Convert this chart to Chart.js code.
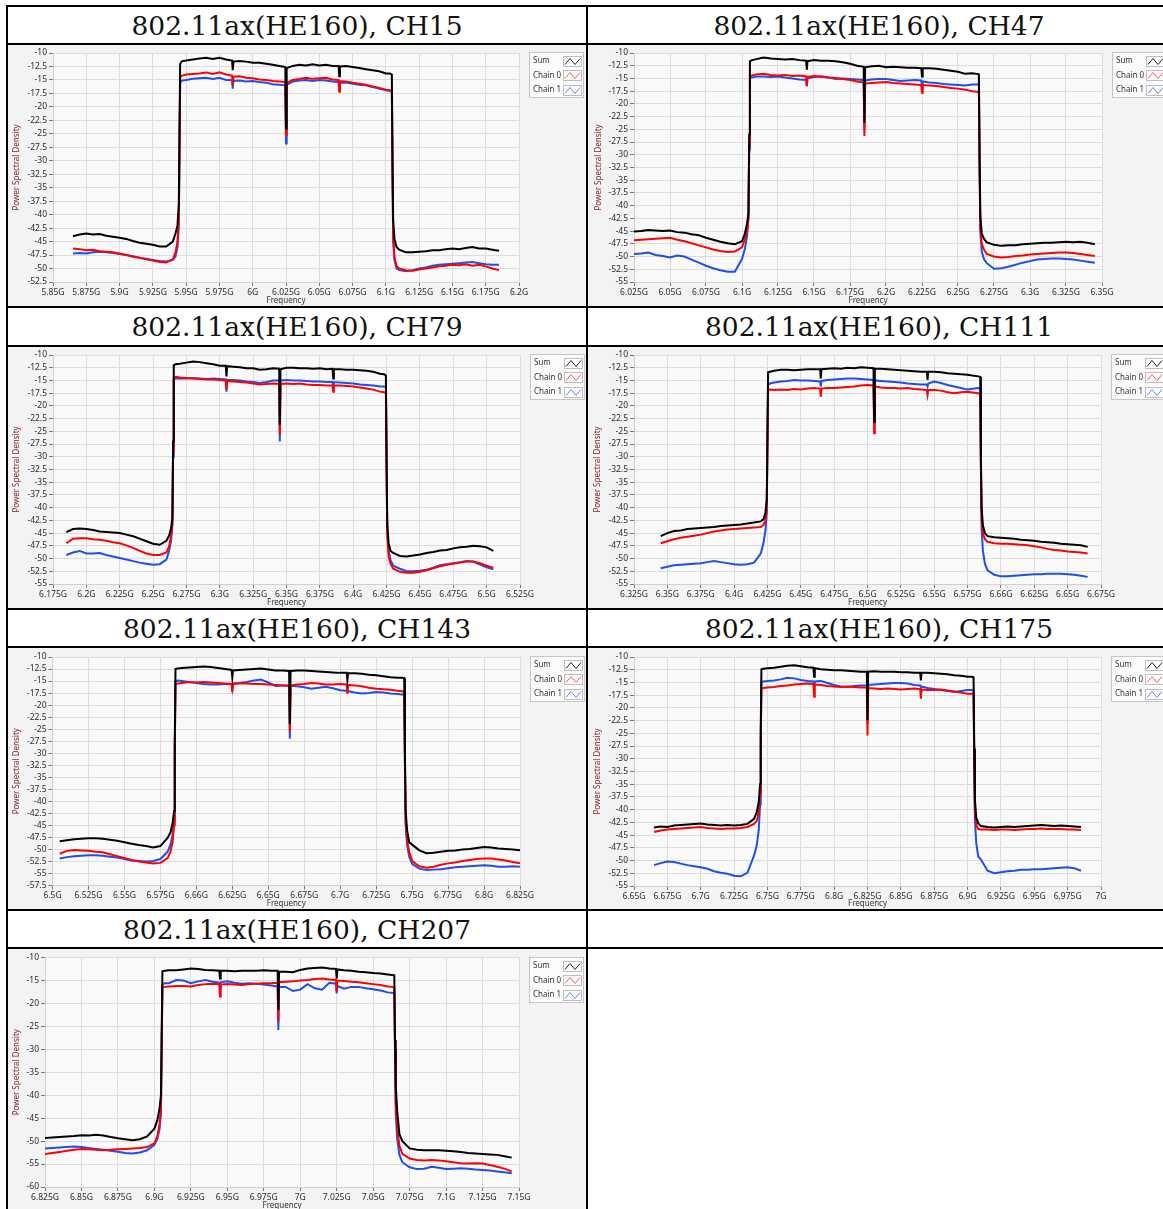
<!DOCTYPE html>
<html>
<head>
<meta charset="utf-8">
<title>802.11ax HE160 power spectral density</title>
<script src="https://cdn.jsdelivr.net/npm/chart.js@4.4.1/dist/chart.umd.min.js"></script>
<style>
  html, body { margin: 0; padding: 0; background: #fff; }
  body { width: 1163px; height: 1209px; position: relative; overflow: hidden; }
  .rule { position: absolute; background: #000; }
  .cap { position: absolute; height: 36px; line-height: 36px; text-align: center; white-space: nowrap;
         font-family: "DejaVu Serif", serif; font-size: 26.5px; color: #111; }
  .panel { position: absolute; background: #f3f3f3; }
</style>
</head>
<body>
<!-- table rules -->
<div class="rule" style="left:6px;top:5px;width:1157px;height:2px"></div>
<div class="rule" style="left:6px;top:43px;width:1157px;height:2px"></div>
<div class="rule" style="left:6px;top:306px;width:1157px;height:2px"></div>
<div class="rule" style="left:6px;top:345px;width:1157px;height:2px"></div>
<div class="rule" style="left:6px;top:608px;width:1157px;height:2px"></div>
<div class="rule" style="left:6px;top:646px;width:1157px;height:2px"></div>
<div class="rule" style="left:6px;top:909px;width:1157px;height:2px"></div>
<div class="rule" style="left:6px;top:947px;width:1157px;height:2px"></div>
<div class="rule" style="left:6px;top:5px;width:2px;height:1204px"></div>
<div class="rule" style="left:586px;top:5px;width:2px;height:1204px"></div>

<div class="cap" id="cap0" style="left:8px;top:8px;width:578px"></div>
<div class="cap" id="cap1" style="left:588px;top:8px;width:582px"></div>
<div class="cap" id="cap2" style="left:8px;top:309px;width:578px"></div>
<div class="cap" id="cap3" style="left:588px;top:309px;width:582px"></div>
<div class="cap" id="cap4" style="left:8px;top:611px;width:578px"></div>
<div class="cap" id="cap5" style="left:588px;top:611px;width:582px"></div>
<div class="cap" id="cap6" style="left:8px;top:912px;width:578px"></div>

<div class="panel" style="left:8px;top:45px;width:578px;height:261px"><canvas id="c0"></canvas></div>
<div class="panel" style="left:588px;top:45px;width:575px;height:261px"><canvas id="c1"></canvas></div>
<div class="panel" style="left:8px;top:347px;width:578px;height:261px"><canvas id="c2"></canvas></div>
<div class="panel" style="left:588px;top:347px;width:575px;height:261px"><canvas id="c3"></canvas></div>
<div class="panel" style="left:8px;top:648px;width:578px;height:261px"><canvas id="c4"></canvas></div>
<div class="panel" style="left:588px;top:648px;width:575px;height:261px"><canvas id="c5"></canvas></div>
<div class="panel" style="left:8px;top:949px;width:578px;height:260px"><canvas id="c6"></canvas></div>

<script>
const channelTitles = ['802.11ax(HE160), CH15', '802.11ax(HE160), CH47', '802.11ax(HE160), CH79',
  '802.11ax(HE160), CH111', '802.11ax(HE160), CH143', '802.11ax(HE160), CH175', '802.11ax(HE160), CH207'];
const seriesNames = ['Sum', 'Chain 0', 'Chain 1'];

// sample positions, MHz from the first point of each trace (edges and pilot dips sampled closer)
const offsetsMHz = [0,5,10,15,20,25,30,35,40,45,50,55,60,65,70,75, 77,78.5,79.5,80,80.5,82,
  85,90,95,100,105,110,115, 119.5,120,120.5, 125,130,135,140,145,150,155, 159.5,160,160.5,
  165,170,175,180,185,190,195, 199.5,200,200.5, 205,210,215,220,225,230,235,
  238,239.5,240,240.5,241.5,243, 245,250,255,260,265,270,275,280,285,290,295,300,305,310,315,320];

const startGHz = [5.865, 6.025, 6.185, 6.345, 6.505, 6.665, 6.825];

const yLabels52 = ['-10','-12.5','-15','-17.5','-20','-22.5','-25','-27.5','-30','-32.5','-35','-37.5','-40','-42.5','-45','-47.5','-50','-52.5'];
const yLabels55 = ['-10','-12.5','-15','-17.5','-20','-22.5','-25','-27.5','-30','-32.5','-35','-37.5','-40','-42.5','-45','-47.5','-50','-52.5','-55'];
const yLabels57 = ['-10','-12.5','-15','-17.5','-20','-22.5','-25','-27.5','-30','-32.5','-35','-37.5','-40','-42.5','-45','-47.5','-50','-52.5','-55','-57.5'];
const yLabels60 = ['-10','-15','-20','-25','-30','-35','-40','-45','-50','-55','-60'];

const xLabelsCh15 = ['5.85G','5.875G','5.9G','5.925G','5.95G','5.975G','6G','6.025G','6.05G','6.075G','6.1G','6.125G','6.15G','6.175G','6.2G'];
const xLabelsCh47 = ['6.025G','6.05G','6.075G','6.1G','6.125G','6.15G','6.175G','6.2G','6.225G','6.25G','6.275G','6.3G','6.325G','6.35G'];
const xLabelsCh79 = ['6.175G','6.2G','6.225G','6.25G','6.275G','6.3G','6.325G','6.35G','6.375G','6.4G','6.425G','6.45G','6.475G','6.5G','6.525G'];
const xLabelsCh111 = ['6.325G','6.35G','6.375G','6.4G','6.425G','6.45G','6.475G','6.5G','6.525G','6.55G','6.575G','6.66G','6.625G','6.65G','6.675G'];
const xLabelsCh143 = ['6.5G','6.525G','6.55G','6.575G','6.66G','6.625G','6.65G','6.675G','6.7G','6.725G','6.75G','6.775G','6.8G','6.825G'];
const xLabelsCh175 = ['6.65G','6.675G','6.7G','6.725G','6.75G','6.775G','6.8G','6.825G','6.85G','6.875G','6.9G','6.925G','6.95G','6.975G','7G'];
const xLabelsCh207 = ['6.825G','6.85G','6.875G','6.9G','6.925G','6.95G','6.975G','7G','7.025G','7.05G','7.075G','7.1G','7.125G','7.15G'];

// CH15
const ch15Sum = [-44.0,-43.7,-43.5,-43.7,-43.6,-43.9,-44.1,-44.3,-44.5,-44.9,-45.2,-45.4,-45.6,-45.9,-45.9,-45.0,
  -43.5,-42.0,-38.0,-25.0,-12.0,-11.5, -11.4,-11.2,-11.0,-10.9,-11.1,-10.9,-11.2, -11.4,-13.2,-11.6,
  -11.5,-11.6,-11.8,-11.8,-12.0,-12.2,-12.4, -12.6,-24.0,-12.8, -12.4,-12.2,-12.3,-12.1,-12.3,-12.2,-12.4,
  -12.4,-14.3,-12.5, -12.4,-12.6,-12.8,-13.0,-13.2,-13.4,-13.8, -13.8,-14.0,-30.0,-41.0,-44.5,-46.0,
  -46.5,-47.0,-47.0,-46.9,-46.8,-46.6,-46.6,-46.4,-46.3,-46.4,-46.2,-46.0,-46.3,-46.3,-46.5,-46.7];
const ch15Chain0 = [-46.3,-46.4,-46.6,-46.5,-46.8,-46.9,-47.0,-47.2,-47.5,-47.8,-48.0,-48.3,-48.5,-48.8,-48.9,-48.3,
  -47.0,-45.0,-41.0,-28.0,-14.5,-14.2, -14.0,-13.9,-13.8,-13.6,-13.9,-13.6,-14.0, -14.2,-16.0,-14.4,
  -14.3,-14.6,-14.7,-14.9,-15.0,-15.2,-15.3, -15.4,-25.2,-15.6, -15.0,-14.8,-14.6,-14.8,-14.7,-14.6,-14.9,
  -15.0,-17.2,-15.2, -15.3,-15.5,-15.7,-15.9,-16.2,-16.5,-16.8, -16.9,-17.3,-32.0,-44.0,-48.0,-49.5,
  -50.0,-50.3,-50.4,-50.2,-50.0,-49.8,-49.6,-49.5,-49.3,-49.4,-49.2,-49.5,-49.3,-49.6,-50.0,-50.3];
const ch15Chain1 = [-47.2,-47.1,-47.2,-47.0,-46.9,-47.0,-47.1,-47.3,-47.5,-47.7,-48.0,-48.2,-48.4,-48.6,-48.7,-48.4,
  -47.8,-46.0,-42.0,-29.0,-15.5,-15.1, -15.0,-14.8,-14.7,-14.6,-14.8,-14.6,-15.0, -15.0,-16.6,-15.2,
  -15.1,-15.3,-15.2,-15.4,-15.5,-15.8,-15.9, -16.0,-26.8,-15.9, -15.3,-15.1,-15.0,-15.2,-15.0,-15.1,-15.3,
  -15.4,-16.8,-15.5, -15.5,-15.7,-15.9,-16.0,-16.3,-16.6,-16.9, -17.0,-17.2,-33.0,-45.0,-48.5,-50.0,
  -50.3,-50.5,-50.3,-50.0,-49.8,-49.5,-49.3,-49.2,-49.1,-49.0,-48.9,-48.8,-49.0,-49.2,-49.3,-49.3];

// CH47
const ch47Sum = [-45.1,-45.0,-44.8,-44.9,-45.0,-44.9,-45.2,-45.3,-45.6,-45.8,-46.3,-46.7,-47.1,-47.4,-47.6,-47.0,
  -45.5,-43.5,-41.5,-26.0,-11.6,-11.4, -11.2,-10.9,-11.1,-11.2,-11.3,-11.2,-11.4, -11.5,-13.3,-11.6,
  -11.4,-11.5,-11.5,-11.6,-11.8,-12.1,-12.5, -12.7,-23.7,-12.8, -12.6,-12.5,-12.8,-12.7,-12.8,-12.9,-12.9,
  -13.0,-14.6,-13.0, -13.0,-13.1,-13.3,-13.5,-13.7,-14.1,-14.0, -14.1,-14.2,-30.0,-42.0,-45.5,-46.5,
  -47.2,-47.7,-47.9,-47.8,-47.8,-47.6,-47.5,-47.4,-47.3,-47.3,-47.2,-47.1,-47.2,-47.1,-47.3,-47.6];
const ch47Chain0 = [-46.8,-46.7,-46.6,-46.5,-46.4,-46.3,-46.7,-47.0,-47.4,-47.8,-48.2,-48.6,-48.9,-49.1,-49.0,-48.2,
  -46.6,-45.0,-42.5,-28.0,-14.6,-14.4, -14.2,-14.1,-14.3,-14.4,-14.3,-14.5,-14.4, -14.6,-16.5,-14.7,
  -14.5,-14.6,-14.8,-14.9,-15.1,-15.3,-15.6, -15.8,-26.3,-16.0, -15.9,-15.8,-15.7,-15.9,-16.0,-16.1,-16.2,
  -16.3,-17.8,-16.3, -16.4,-16.5,-16.7,-16.9,-17.0,-17.2,-17.5, -17.6,-17.8,-33.0,-44.0,-47.5,-48.6,
  -49.5,-50.0,-50.2,-50.1,-49.9,-49.8,-49.6,-49.5,-49.4,-49.3,-49.2,-49.2,-49.3,-49.5,-49.7,-49.9];
const ch47Chain1 = [-49.5,-49.4,-49.2,-49.7,-49.9,-50.2,-49.8,-50.0,-50.6,-51.2,-51.8,-52.3,-52.7,-53.0,-53.0,-50.5,
  -48.5,-46.0,-42.0,-29.0,-15.0,-14.8, -14.6,-14.6,-14.7,-14.6,-14.8,-15.0,-15.2, -15.3,-16.5,-15.0,
  -14.7,-14.6,-14.8,-15.1,-15.0,-15.1,-15.2, -15.3,-25.0,-15.4, -15.2,-15.1,-15.1,-15.3,-15.5,-15.4,-15.3,
  -15.4,-16.8,-15.6, -15.8,-15.9,-16.1,-16.2,-16.3,-16.4,-16.2, -16.2,-16.1,-33.0,-45.0,-49.0,-50.5,
  -51.3,-52.4,-52.3,-52.0,-51.6,-51.2,-50.9,-50.6,-50.5,-50.4,-50.4,-50.5,-50.6,-50.8,-51.0,-51.2];

// CH79
const ch79Sum = [-44.8,-44.2,-44.1,-44.2,-44.4,-44.7,-44.8,-44.9,-45.0,-45.3,-45.6,-46.1,-46.6,-47.1,-47.3,-46.5,
  -45.5,-44.0,-42.0,-27.0,-12.0,-11.8, -11.7,-11.5,-11.3,-11.4,-11.6,-11.8,-12.1, -12.1,-14.2,-12.2,
  -12.3,-12.4,-12.6,-12.6,-12.9,-12.8,-12.6, -12.7,-23.7,-12.8, -12.5,-12.5,-12.6,-12.6,-12.7,-12.6,-12.8,
  -12.7,-14.6,-12.8, -12.8,-12.9,-12.9,-13.0,-13.1,-13.3,-13.7, -13.8,-14.0,-30.0,-43.0,-47.0,-48.5,
  -48.9,-49.5,-49.6,-49.4,-49.2,-48.9,-48.7,-48.4,-48.3,-48.0,-47.8,-47.7,-47.5,-47.6,-47.8,-48.5];
const ch79Chain0 = [-47.0,-46.1,-46.0,-46.0,-46.2,-46.3,-46.5,-46.8,-47.0,-47.4,-47.9,-48.5,-49.0,-49.3,-49.3,-48.8,
  -47.6,-45.5,-43.0,-29.0,-14.5,-14.3, -14.4,-14.5,-14.6,-14.7,-14.8,-14.8,-14.9, -15.0,-16.8,-15.1,
  -15.2,-15.3,-15.4,-15.6,-15.8,-15.7,-15.6, -15.7,-25.7,-15.7, -15.6,-15.7,-15.6,-15.8,-15.9,-15.9,-16.0,
  -16.0,-17.2,-16.0, -16.0,-16.1,-16.2,-16.4,-16.6,-16.8,-17.2, -17.3,-17.5,-32.0,-45.0,-49.5,-51.0,
  -52.0,-52.6,-52.8,-52.8,-52.6,-52.3,-51.9,-51.5,-51.2,-51.0,-50.8,-50.6,-50.6,-50.9,-51.4,-51.8];
const ch79Chain1 = [-49.3,-48.8,-48.5,-49.0,-49.0,-48.9,-49.3,-49.6,-49.9,-50.2,-50.5,-50.8,-51.0,-51.2,-51.1,-50.2,
  -48.5,-46.5,-43.5,-30.0,-14.8,-14.6, -14.6,-14.6,-14.5,-14.6,-14.7,-14.6,-14.7, -14.8,-17.2,-14.9,
  -14.9,-15.0,-15.2,-15.3,-15.5,-15.3,-15.0, -15.0,-27.0,-15.0, -14.9,-15.0,-15.0,-15.1,-15.2,-15.2,-15.3,
  -15.3,-16.5,-15.3, -15.4,-15.5,-15.6,-15.8,-15.9,-16.0,-16.2, -16.2,-16.3,-32.0,-44.0,-48.5,-50.3,
  -51.4,-52.0,-52.5,-52.5,-52.4,-52.2,-51.8,-51.3,-51.1,-50.9,-50.7,-50.5,-50.6,-51.2,-51.7,-52.1];

// CH111
const ch111Sum = [-45.6,-45.0,-44.6,-44.5,-44.2,-44.1,-44.0,-43.9,-43.8,-43.6,-43.5,-43.4,-43.3,-43.1,-42.9,-42.7,
  -42.3,-41.0,-38.5,-26.0,-13.4,-13.3, -13.1,-12.9,-12.9,-13.0,-12.9,-12.8,-12.8, -12.8,-14.6,-12.8,
  -12.7,-12.6,-12.7,-12.5,-12.6,-12.4,-12.5, -12.6,-23.1,-12.7, -12.7,-12.8,-12.9,-13.0,-13.1,-13.2,-13.3,
  -13.3,-14.9,-13.3, -13.3,-13.4,-13.6,-13.7,-13.8,-13.9,-14.1, -14.2,-14.3,-30.0,-40.0,-43.5,-45.0,
  -45.6,-45.8,-45.9,-46.0,-46.1,-46.3,-46.4,-46.5,-46.7,-46.8,-46.9,-47.1,-47.2,-47.3,-47.4,-47.7];
const ch111Chain0 = [-47.0,-46.6,-46.2,-45.9,-45.7,-45.5,-45.3,-45.0,-44.7,-44.5,-44.3,-44.2,-44.1,-44.0,-43.9,-43.8,
  -43.4,-42.5,-40.0,-28.0,-17.0,-16.8, -16.9,-16.8,-16.9,-16.7,-16.8,-16.6,-16.5, -16.6,-18.2,-16.6,
  -16.5,-16.5,-16.4,-16.3,-16.2,-16.0,-15.9, -16.0,-25.4,-16.2, -16.4,-16.5,-16.5,-16.6,-16.5,-16.7,-16.8,
  -16.9,-17.8,-16.9, -16.9,-17.0,-17.3,-17.5,-17.3,-17.2,-17.4, -17.5,-17.6,-32.0,-42.0,-45.0,-46.2,
  -46.7,-47.0,-47.1,-47.1,-47.2,-47.3,-47.4,-47.6,-47.8,-48.1,-48.3,-48.4,-48.6,-48.7,-48.8,-49.0];
const ch111Chain1 = [-51.9,-51.6,-51.3,-51.2,-51.1,-51.0,-50.9,-50.7,-50.5,-50.7,-50.9,-51.1,-51.2,-51.1,-50.8,-49.0,
  -47.0,-44.5,-41.0,-28.0,-15.8,-15.6, -15.4,-15.2,-15.1,-14.9,-15.0,-15.0,-15.1, -15.2,-16.2,-15.1,
  -14.9,-14.8,-14.7,-14.6,-14.6,-14.7,-14.8, -14.9,-23.0,-15.0, -15.1,-15.2,-15.3,-15.4,-15.6,-15.7,-15.8,
  -15.8,-16.2,-15.6, -15.2,-15.5,-15.9,-16.2,-16.5,-16.8,-16.6, -16.5,-16.6,-32.0,-44.0,-48.5,-51.0,
  -52.3,-53.2,-53.5,-53.5,-53.4,-53.3,-53.2,-53.1,-53.1,-53.0,-53.0,-53.0,-53.1,-53.2,-53.4,-53.6];

// CH143
const ch143Sum = [-48.3,-48.1,-47.9,-47.8,-47.7,-47.7,-47.8,-48.0,-48.2,-48.5,-48.8,-49.1,-49.3,-49.6,-49.3,-47.6,
  -46.5,-44.5,-42.0,-28.0,-12.5,-12.4, -12.3,-12.2,-12.1,-12.0,-12.1,-12.3,-12.5, -12.7,-14.2,-12.8,
  -12.7,-12.6,-12.5,-12.4,-12.6,-12.8,-12.8, -12.9,-23.9,-12.9, -12.8,-12.8,-12.9,-13.0,-13.1,-13.2,-13.3,
  -13.3,-14.8,-13.4, -13.4,-13.5,-13.7,-13.8,-14.0,-14.2,-14.3, -14.3,-14.4,-30.0,-42.0,-46.0,-48.5,
  -49.0,-50.2,-50.8,-50.7,-50.5,-50.3,-50.2,-50.0,-49.9,-49.7,-49.5,-49.6,-49.8,-49.9,-50.0,-50.2];
const ch143Chain0 = [-50.9,-50.3,-50.1,-50.2,-50.3,-50.5,-50.6,-51.0,-51.4,-51.8,-52.2,-52.5,-52.7,-52.9,-52.8,-51.8,
  -50.5,-48.5,-45.0,-30.0,-15.6,-15.5, -15.4,-15.2,-15.3,-15.2,-15.3,-15.4,-15.5, -15.6,-17.3,-15.6,
  -15.5,-15.5,-15.6,-15.6,-15.7,-15.8,-15.9, -16.0,-25.6,-15.9, -15.7,-15.6,-15.4,-15.5,-15.7,-15.7,-15.6,
  -15.7,-17.6,-15.8, -15.9,-16.1,-16.4,-16.6,-16.7,-16.8,-17.0, -17.1,-17.2,-32.0,-44.0,-48.0,-50.5,
  -52.4,-53.5,-53.8,-53.6,-53.2,-52.9,-52.7,-52.4,-52.2,-52.0,-51.9,-51.9,-52.1,-52.3,-52.6,-52.9];
const ch143Chain1 = [-51.9,-51.6,-51.4,-51.3,-51.2,-51.2,-51.3,-51.5,-51.7,-52.0,-52.3,-52.4,-52.5,-52.4,-52.0,-50.5,
  -49.0,-47.0,-44.0,-30.0,-15.0,-14.9, -15.0,-15.2,-15.4,-15.6,-15.7,-15.7,-15.6, -15.6,-16.6,-15.5,
  -15.4,-15.2,-14.9,-14.7,-15.3,-16.0,-15.9, -15.9,-27.0,-16.0, -16.1,-16.3,-16.6,-16.4,-16.2,-16.5,-16.9,
  -17.0,-17.3,-17.1, -17.4,-17.6,-17.5,-17.3,-17.4,-17.6,-17.7, -17.8,-17.8,-32.0,-45.0,-49.0,-51.5,
  -53.0,-54.0,-54.3,-54.2,-54.1,-53.9,-53.7,-53.6,-53.5,-53.4,-53.3,-53.4,-53.6,-53.6,-53.5,-53.6];

// CH175
const ch175Sum = [-43.5,-43.3,-43.4,-43.1,-43.0,-42.9,-42.8,-42.7,-42.9,-43.0,-43.1,-43.0,-43.1,-43.0,-42.8,-41.8,
  -40.5,-38.5,-35.0,-24.0,-12.4,-12.3, -12.2,-12.1,-11.9,-11.7,-11.6,-11.8,-12.0, -12.1,-13.9,-12.2,
  -12.4,-12.5,-12.6,-12.6,-12.7,-12.8,-12.9, -12.9,-22.4,-12.9, -12.8,-12.9,-12.9,-12.9,-13.0,-13.0,-13.1,
  -13.1,-14.6,-13.1, -13.1,-13.2,-13.3,-13.4,-13.6,-13.7,-13.9, -13.9,-14.0,-28.0,-38.0,-41.5,-42.7,
  -43.2,-43.4,-43.5,-43.4,-43.3,-43.4,-43.3,-43.2,-43.1,-43.0,-43.1,-43.2,-43.1,-43.2,-43.3,-43.4];
const ch175Chain0 = [-44.4,-44.1,-43.9,-43.8,-43.7,-43.6,-43.5,-43.4,-43.6,-43.7,-43.8,-43.7,-43.7,-43.6,-43.4,-42.8,
  -42.2,-40.5,-37.0,-26.0,-16.2,-16.1, -16.0,-15.9,-15.7,-15.6,-15.4,-15.3,-15.2, -15.3,-17.8,-15.4,
  -15.5,-15.7,-15.8,-15.9,-15.8,-15.9,-16.0, -16.0,-25.4,-16.1, -16.2,-16.3,-16.2,-16.3,-16.4,-16.3,-16.2,
  -16.3,-18.2,-16.4, -16.5,-16.5,-16.4,-16.6,-16.8,-17.0,-17.2, -17.2,-17.3,-30.0,-40.0,-43.0,-43.8,
  -43.9,-43.9,-44.0,-43.9,-43.9,-44.0,-43.9,-43.8,-43.8,-43.7,-43.8,-43.8,-43.8,-43.9,-43.9,-44.0];
const ch175Chain1 = [-50.9,-50.5,-50.2,-50.3,-50.6,-50.9,-51.1,-51.3,-51.6,-52.1,-52.4,-52.6,-53.0,-53.1,-52.4,-49.0,
  -47.0,-44.0,-39.0,-27.0,-14.9,-14.8, -14.7,-14.6,-14.4,-14.1,-14.2,-14.5,-14.7, -14.8,-15.2,-14.8,
  -14.7,-15.1,-15.5,-15.8,-15.9,-15.7,-15.6, -15.6,-23.0,-15.5, -15.4,-15.3,-15.2,-15.1,-15.1,-15.2,-15.5,
  -15.6,-15.9,-15.8, -16.1,-16.3,-16.5,-16.7,-16.9,-16.7,-16.5, -16.5,-16.6,-31.0,-42.0,-46.6,-49.2,
  -49.8,-52.0,-52.5,-52.3,-52.1,-52.0,-51.8,-51.8,-51.7,-51.7,-51.6,-51.5,-51.4,-51.3,-51.5,-52.0];

// CH207
const ch207Sum = [-49.3,-49.2,-49.1,-49.0,-48.9,-48.7,-48.8,-48.6,-48.8,-49.1,-49.4,-49.6,-49.8,-49.6,-49.0,-47.3,
  -45.5,-43.0,-40.0,-27.0,-13.0,-12.9, -12.8,-12.8,-12.6,-12.4,-12.5,-12.7,-12.8, -12.9,-14.6,-12.9,
  -12.9,-13.0,-12.9,-12.9,-12.9,-12.8,-12.9, -12.9,-21.4,-13.1, -13.1,-13.2,-12.7,-12.4,-12.3,-12.2,-12.4,
  -12.5,-14.6,-12.6, -12.8,-12.9,-13.1,-13.2,-13.4,-13.5,-13.7, -13.8,-13.9,-28.0,-38.0,-43.5,-48.5,
  -50.0,-51.6,-51.9,-52.0,-52.0,-52.0,-52.1,-52.2,-52.4,-52.6,-52.7,-52.8,-52.9,-53.0,-53.3,-53.6];
const ch207Chain0 = [-52.8,-52.6,-52.4,-52.1,-51.9,-51.7,-51.8,-51.9,-52.0,-51.9,-51.8,-51.7,-51.6,-51.5,-51.3,-50.5,
  -49.0,-46.5,-43.0,-29.0,-16.5,-16.4, -16.3,-16.2,-16.2,-16.3,-16.0,-15.8,-15.7, -15.8,-18.5,-15.9,
  -15.8,-15.9,-16.0,-15.8,-15.7,-15.6,-15.6, -15.5,-24.0,-15.4, -15.3,-15.2,-15.0,-14.9,-14.7,-14.6,-14.8,
  -14.9,-17.4,-15.0, -15.1,-15.3,-15.4,-15.6,-15.8,-16.0,-16.3, -16.4,-16.5,-30.0,-42.0,-47.5,-51.0,
  -52.8,-53.8,-54.1,-54.2,-54.1,-54.2,-54.4,-54.6,-54.8,-54.9,-54.8,-54.9,-55.2,-55.6,-56.0,-56.6];
const ch207Chain1 = [-51.6,-51.5,-51.4,-51.3,-51.2,-51.3,-51.5,-51.7,-51.9,-52.1,-52.3,-52.6,-52.7,-52.5,-52.0,-50.8,
  -49.5,-47.5,-44.0,-30.0,-15.8,-15.6, -15.6,-14.9,-15.0,-15.6,-15.2,-14.9,-15.3, -15.5,-16.4,-15.4,
  -15.2,-15.5,-15.7,-15.6,-15.7,-15.9,-16.1, -16.3,-25.8,-16.4, -16.4,-17.3,-17.0,-15.8,-16.7,-17.0,-15.5,
  -15.7,-17.8,-16.2, -16.8,-16.4,-16.4,-16.7,-16.9,-17.2,-17.6, -17.7,-17.8,-31.0,-44.0,-49.5,-53.0,
  -54.6,-55.7,-56.1,-56.0,-55.6,-55.8,-56.1,-56.0,-55.9,-56.0,-56.2,-56.3,-56.4,-56.6,-56.8,-57.0];

const seriesColors = ['#000000', '#ff0000', '#1f4fe8'];
const legendIconColors = ['#222222', '#ff5a5a', '#5a86ff'];

const panels = [
  { canvas: 'c0', series: [ch15Sum, ch15Chain0, ch15Chain1], xMin: 5.85, xLabels: xLabelsCh15, yLabels: yLabels52,
    yWidth: 45, padTop: 8, padRight: 67, xHeight: 24, yTitlePad: 4, xTitlePad: 0 },
  { canvas: 'c1', series: [ch47Sum, ch47Chain0, ch47Chain1], xMin: 6.025, xLabels: xLabelsCh47, yLabels: yLabels55,
    yWidth: 46, padTop: 8, padRight: 61, xHeight: 24, yTitlePad: 6, xTitlePad: 0 },
  { canvas: 'c2', series: [ch79Sum, ch79Chain0, ch79Chain1], xMin: 6.175, xLabels: xLabelsCh79, yLabels: yLabels55,
    yWidth: 45, padTop: 8, padRight: 66, xHeight: 24, yTitlePad: 4, xTitlePad: 0 },
  { canvas: 'c3', series: [ch111Sum, ch111Chain0, ch111Chain1], xMin: 6.325, xLabels: xLabelsCh111, yLabels: yLabels55,
    yWidth: 46, padTop: 8, padRight: 62, xHeight: 24, yTitlePad: 5, xTitlePad: 0 },
  { canvas: 'c4', series: [ch143Sum, ch143Chain0, ch143Chain1], xMin: 6.5, xLabels: xLabelsCh143, yLabels: yLabels57,
    yWidth: 44.5, padTop: 9, padRight: 66, xHeight: 23.5, yTitlePad: 4, xTitlePad: 0 },
  { canvas: 'c5', series: [ch175Sum, ch175Chain0, ch175Chain1], xMin: 6.65, xLabels: xLabelsCh175, yLabels: yLabels55,
    yWidth: 46, padTop: 9, padRight: 62, xHeight: 23, yTitlePad: 5, xTitlePad: 0 },
  { canvas: 'c6', series: [ch207Sum, ch207Chain0, ch207Chain1], xMin: 6.825, xLabels: xLabelsCh207, yLabels: yLabels60,
    yWidth: 37, padTop: 8.5, padRight: 67, xHeight: 22, yTitlePad: 3.5, xTitlePad: -2 }
];

Chart.defaults.font.family = '"Noto Sans", sans-serif';
Chart.defaults.font.size = 8.5;
Chart.defaults.color = '#2b2b2b';

// light plot background, like the LabVIEW graph
const plotBg = {
  id: 'plotBg',
  beforeDraw(chart) {
    const { ctx, chartArea: a } = chart;
    ctx.save();
    ctx.fillStyle = '#f9f9f9';
    ctx.fillRect(a.left, a.top, a.right - a.left, a.bottom - a.top);
    ctx.restore();
  }
};

// boxed legend with a small zigzag sample after each name
const legendBox = {
  id: 'legendBox',
  afterDraw(chart) {
    const { ctx, chartArea: a } = chart;
    const x = Math.round(a.right) + 10, y = Math.round(a.top) - 1;
    ctx.save();
    ctx.fillStyle = '#fbfbfb';
    ctx.fillRect(x, y, 55, 46);
    ctx.strokeStyle = '#c6c6c6';
    ctx.lineWidth = 1;
    ctx.strokeRect(x + 0.5, y + 0.5, 54, 45);
    ctx.font = '8px "Noto Sans", sans-serif';
    ctx.textBaseline = 'middle';
    chart.data.datasets.forEach((ds, i) => {
      const cy = y + 9 + i * 14.5;
      ctx.fillStyle = '#333';
      ctx.fillText(ds.label, x + 4, cy);
      const ix = x + 34, iy = Math.round(cy - 5.5);
      ctx.fillStyle = '#ffffff';
      ctx.fillRect(ix, iy, 19, 11);
      ctx.strokeStyle = '#bdbdbd';
      ctx.strokeRect(ix + 0.5, iy + 0.5, 18, 10);
      ctx.strokeStyle = legendIconColors[i];
      ctx.beginPath();
      ctx.moveTo(ix + 2, iy + 8.5);
      ctx.lineTo(ix + 7, iy + 2.5);
      ctx.lineTo(ix + 12, iy + 8.5);
      ctx.lineTo(ix + 17, iy + 2.5);
      ctx.stroke();
    });
    ctx.restore();
  }
};

function buildChart(p, idx) {
  const start = startGHz[idx];
  const xTicks = p.xLabels.map((_, i) => p.xMin + i * 0.025);
  const yTicks = p.yLabels.map(Number);
  const datasets = p.series.map((vals, s) => ({
    label: seriesNames[s],
    data: offsetsMHz.map((o, i) => ({ x: start + o / 1000, y: vals[i] })),
    borderColor: seriesColors[s],
    borderWidth: 2,
    pointRadius: 0,
    tension: 0
  }));

  new Chart(document.getElementById(p.canvas), {
    type: 'line',
    data: { datasets },
    options: {
      responsive: true,
      maintainAspectRatio: false,
      animation: false,
      events: [],
      layout: { padding: { left: 0, top: p.padTop, right: p.padRight, bottom: 0 } },
      plugins: { legend: { display: false }, tooltip: { enabled: false } },
      scales: {
        x: {
          type: 'linear',
          min: xTicks[0],
          max: xTicks[xTicks.length - 1],
          afterBuildTicks: s => { s.ticks = xTicks.map(v => ({ value: v })); },
          afterFit: s => { s.height = p.xHeight; },
          ticks: { autoSkip: false, maxRotation: 0, minRotation: 0, padding: 1,
                   callback: (v, i) => p.xLabels[i] },
          grid: { color: '#dcdcdc', tickColor: '#777', tickLength: 4 },
          border: { color: '#d0d0d0' },
          title: { display: true, text: 'Frequency', color: '#333', font: { size: 8 },
                   padding: { top: 0, bottom: p.xTitlePad } }
        },
        y: {
          min: yTicks[yTicks.length - 1],
          max: yTicks[0],
          afterBuildTicks: s => { s.ticks = yTicks.map(v => ({ value: v })); },
          afterFit: s => { s.width = p.yWidth; },
          ticks: { autoSkip: false, padding: 2, callback: (v, i) => p.yLabels[i] },
          grid: { color: '#dcdcdc', tickColor: '#777', tickLength: 4 },
          border: { color: '#d0d0d0' },
          title: { display: true, text: 'Power Spectral Density', color: '#7b2525', font: { size: 8 },
                   padding: { top: p.yTitlePad, bottom: 0 } }
        }
      }
    },
    plugins: [plotBg, legendBox]
  });
}

channelTitles.forEach((t, i) => { document.getElementById('cap' + i).textContent = t; });
panels.forEach(buildChart);
</script>
</body>
</html>
